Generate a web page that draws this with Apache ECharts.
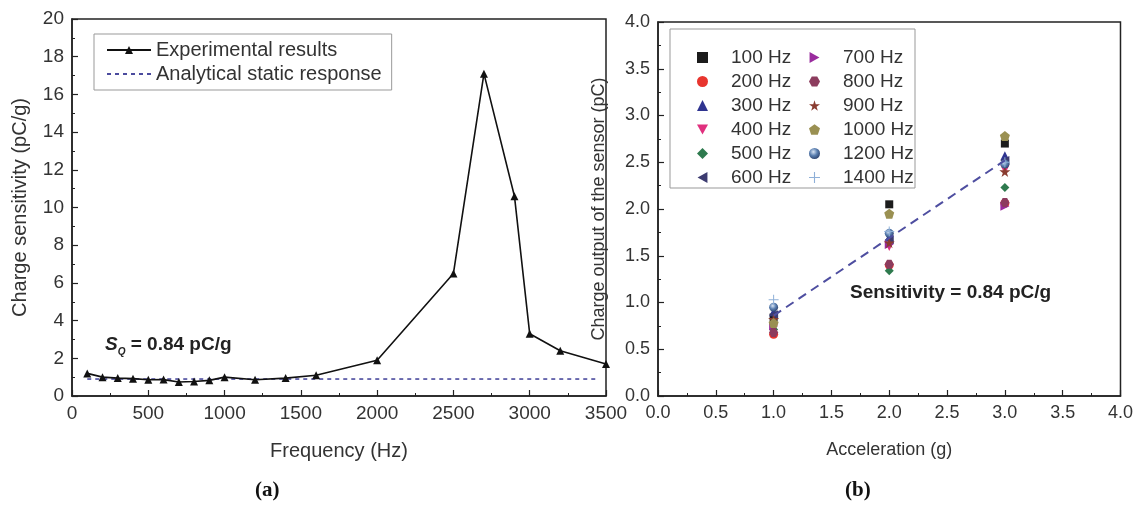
<!DOCTYPE html>
<html><head><meta charset="utf-8">
<script src="https://cdn.jsdelivr.net/npm/echarts@6/dist/echarts.min.js"></script>
<style>html,body{margin:0;padding:0;background:#fff}#c{width:1136px;height:513px}</style>
</head><body><div id="c"></div>
<script>
// ---- Panel (a) data ----
const freq = [100,200,300,400,500,600,700,800,900,1000,1200,1400,1600,2000,2500,2700,2900,3000,3200,3500];
const sens = [1.2,1.0,0.95,0.92,0.86,0.87,0.74,0.77,0.83,1.0,0.86,0.95,1.1,1.9,6.5,17.1,10.6,3.3,2.4,1.7];
const staticX = [100,3450];
const staticY = [0.9,0.9];
// ---- Panel (b) data ----
const accel = [1,2,3];
const freqNames = ['100 Hz','200 Hz','300 Hz','400 Hz','500 Hz','600 Hz','700 Hz','800 Hz','900 Hz','1000 Hz','1200 Hz','1400 Hz'];
const q100 = [0.84,2.05,2.70];
const q200 = [0.66,1.40,2.06];
const q300 = [0.90,1.70,2.57];
const q400 = [0.73,1.60,2.42];
const q500 = [0.71,1.34,2.23];
const q600 = [0.87,1.67,2.52];
const q700 = [0.75,1.62,2.03];
const q800 = [0.68,1.41,2.07];
const q900 = [0.82,1.64,2.40];
const q1000 = [0.78,1.95,2.78];
const q1200 = [0.95,1.74,2.48];
const q1400 = [1.03,1.76,2.50];
const fitX = [1,3];
const fitY = [0.86,2.52];

const charges = [q100,q200,q300,q400,q500,q600,q700,q800,q900,q1000,q1200,q1400];
const symbols = [
  'rect','circle','triangle','path://M0,0 L100,0 L50,90 Z','diamond','path://M0,50 L90,0 L90,100 Z',
  'path://M90,50 L0,0 L0,100 Z','path://M25,0 L75,0 L100,45 L75,90 L25,90 L0,45 Z',
  'path://M50,0 L61,35 L98,35 L68,57 L79,91 L50,70 L21,91 L32,57 L2,35 L39,35 Z',
  'path://M50,0 L98,35 L79,91 L21,91 L2,35 Z','circle',
  'path://M45,0 L55,0 L55,45 L100,45 L100,55 L55,55 L55,100 L45,100 L45,55 L0,55 L0,45 L45,45 Z'];
const colors = ['#1c1c1c','#e8352e','#2f3490','#e0307e','#2e7a4e','#3c3b70','#9a2c9e','#8c3c5e','#8a3c30','#9a9052',
  {type:'radial',x:0.4,y:0.35,r:0.7,colorStops:[{offset:0,color:'#d8e4f4'},{offset:0.5,color:'#5a7fb0'},{offset:1,color:'#2a3f6a'}]},
  '#8fb0d8'];
const sizes = [8,9,9,9,9,9,9,9,11,10,9,10];

const F = 'Liberation Sans, Arial, sans-serif';
function axis(fs, nfs){
  return {
    axisLine:{show:true,onZero:false,lineStyle:{color:'#222',width:1.5}},
    axisTick:{show:true,inside:true,length:6,lineStyle:{color:'#222',width:1.2}},
    minorTick:{show:true,splitNumber:2,length:3,lineStyle:{color:'#222',width:1}},
    splitLine:{show:false},
    axisLabel:{color:'#333',fontSize:fs,fontFamily:F},
    nameTextStyle:{color:'#333',fontSize:nfs,fontFamily:F}
  };
}
const plain = v => String(v);
const one = v => v.toFixed(1);

const series = [
  {name:'Experimental results',type:'line',xAxisIndex:0,yAxisIndex:0,
   data:freq.map((f,i)=>[f,sens[i]]),symbol:'triangle',symbolSize:8,
   lineStyle:{color:'#111',width:1.6},itemStyle:{color:'#111'},z:3},
  {name:'Analytical static response',type:'line',xAxisIndex:0,yAxisIndex:0,
   data:staticX.map((x,i)=>[x,staticY[i]]),symbol:'none',
   lineStyle:{color:'#4b4b9e',width:1.6,type:[4,4]},itemStyle:{color:'#4b4b9e'},z:2}
];
freqNames.forEach((n,i)=>{
  series.push({name:n,type:'scatter',xAxisIndex:1,yAxisIndex:1,
    data:accel.map((a,j)=>[a,charges[i][j]]),symbol:symbols[i],symbolSize:sizes[i],
    itemStyle:{color:colors[i],opacity:1},z:3});
});
series.push({name:'fit',type:'line',xAxisIndex:1,yAxisIndex:1,data:fitX.map((x,i)=>[x,fitY[i]]),
  symbol:'none',lineStyle:{color:'#4e4ea0',width:2,type:[9,6]},z:4,silent:true});

const chart = echarts.init(document.getElementById('c'),null,{renderer:'canvas'});
const ax0 = axis(19,20), ax1 = axis(18,18);
chart.setOption({
  animation:false,
  backgroundColor:'#fff',
  grid:[
    {left:72,right:530,top:19,bottom:117,show:true,borderColor:'#222',borderWidth:1.5},
    {left:658,right:14,top:22,bottom:117,show:true,borderColor:'#222',borderWidth:1.5}
  ],
  xAxis:[
    Object.assign({},ax0,{gridIndex:0,type:'value',min:0,max:3500,interval:500,
      axisLabel:Object.assign({},ax0.axisLabel,{formatter:plain}),
      name:'Frequency (Hz)',nameLocation:'middle',nameGap:45}),
    Object.assign({},ax1,{gridIndex:1,type:'value',min:0,max:4,interval:0.5,
      axisLabel:Object.assign({},ax1.axisLabel,{formatter:one}),
      name:'Acceleration (g)',nameLocation:'middle',nameGap:45})
  ],
  yAxis:[
    Object.assign({},ax0,{gridIndex:0,type:'value',min:0,max:20,interval:2,
      axisLabel:Object.assign({},ax0.axisLabel,{formatter:plain}),
      name:'Charge sensitivity (pC/g)',nameLocation:'middle',nameGap:42}),
    Object.assign({},ax1,{gridIndex:1,type:'value',min:0,max:4,interval:0.5,
      axisLabel:Object.assign({},ax1.axisLabel,{formatter:one}),
      name:'Charge output of the sensor (pC)',nameLocation:'middle',nameGap:50})
  ],
  legend:[
    {data:['Experimental results',{name:'Analytical static response',itemStyle:{opacity:0}}],
     orient:'vertical',left:94,top:34,
     itemWidth:44,itemHeight:10,itemGap:4,padding:[6,10,6,12],borderColor:'#999',borderWidth:1,
     textStyle:{color:'#333',fontSize:20,fontFamily:F}},
    {data:freqNames.slice(0,6),orient:'vertical',left:692,top:43,itemWidth:11,itemHeight:11,itemGap:5,
     textStyle:{color:'#333',fontSize:19,fontFamily:F,padding:[0,0,0,18]}},
    {data:freqNames.slice(6),orient:'vertical',left:804,top:43,itemWidth:11,itemHeight:11,itemGap:5,
     textStyle:{color:'#333',fontSize:19,fontFamily:F,padding:[0,0,0,18]}}
  ],
  graphic:[
    {type:'rect',shape:{x:670,y:29,width:245,height:159},style:{fill:'none',stroke:'#999',lineWidth:1},z:1},
    {type:'text',left:105,top:335,style:{
      text:'{s|S}{q|Q}{t| = 0.84 pC/g}',
      rich:{s:{fontSize:19,fontWeight:'bold',fontStyle:'italic',fontFamily:F,fill:'#222'},
            q:{fontSize:10,fontWeight:'bold',fontStyle:'italic',fontFamily:F,fill:'#222',padding:[15,0,0,0]},
            t:{fontSize:19,fontWeight:'bold',fontFamily:F,fill:'#222'}}}},
    {type:'text',left:850,top:283,style:{text:'Sensitivity = 0.84 pC/g',fontSize:19,fontWeight:'bold',fontFamily:F,fill:'#222'}},
    {type:'text',left:255,top:480,style:{text:'(a)',fontSize:21,fontWeight:'bold',fontFamily:'Liberation Serif, serif',fill:'#111'}},
    {type:'text',left:845,top:480,style:{text:'(b)',fontSize:21,fontWeight:'bold',fontFamily:'Liberation Serif, serif',fill:'#111'}}
  ],
  series:series
});
</script></body></html>
